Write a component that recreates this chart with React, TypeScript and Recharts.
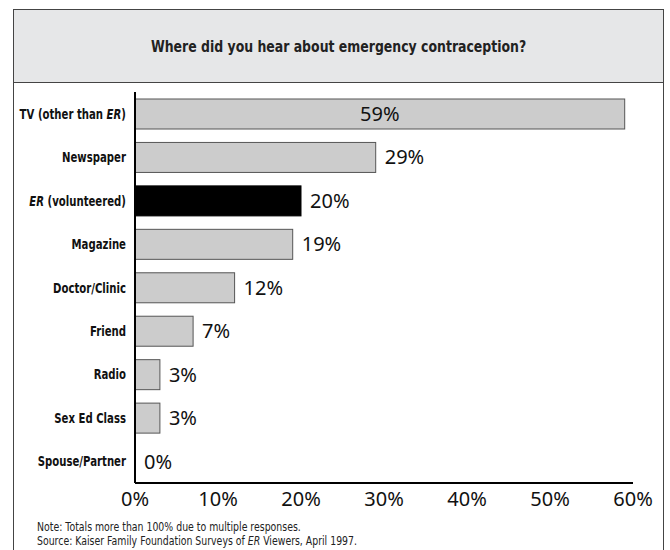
import { BarChart, Bar, XAxis, YAxis, Cell } from "recharts";

const sources = [
  "TV (other than ER)",
  "Newspaper",
  "ER (volunteered)",
  "Magazine",
  "Doctor/Clinic",
  "Friend",
  "Radio",
  "Sex Ed Class",
  "Spouse/Partner",
];
const shares = [59, 29, 20, 19, 12, 7, 3, 3, 0];
const xTicks = [0, 10, 20, 30, 40, 50, 60];

const data = sources.map((name, i) => ({ name, value: shares[i] }));

const narrow = '"DejaVu Sans", sans-serif';
const plain = '"Noto Sans", "Open Sans", sans-serif';

// splits "ER" out so it can be set in italics; squeezed horizontally to mimic a condensed face
function CategoryTick(props: any) {
  const { x, y, payload } = props;
  const parts = String(payload.value).split(/(ER)/).filter((p) => p !== "");
  return (
    <g transform={`translate(${x - 1},${y}) scale(0.7,1)`}>
      <text x={0} y={0} dy={5} textAnchor="end" fontFamily={narrow} fontWeight="bold" fontSize={14.5} fill="#111">
        {parts.map((p, i) => (
          <tspan key={i} fontStyle={p === "ER" ? "italic" : "normal"}>
            {p}
          </tspan>
        ))}
      </text>
    </g>
  );
}

function PercentTick(props: any) {
  const { x, y, payload } = props;
  return (
    <text x={x} y={y} dy={15} textAnchor="middle" fontFamily={plain} fontSize={20} fill="#111">
      {payload.value}%
    </text>
  );
}

// draws the bar and its value label together, so the 0% row still gets its label
function BarWithLabel(props: any) {
  const { x, y, width, height, fill, stroke, value } = props;
  const v = Array.isArray(value) ? value[1] - value[0] : value;
  const inside = width > 300;
  return (
    <g>
      {width > 0 && <rect x={x} y={y} width={width} height={height} fill={fill} stroke={stroke} strokeWidth={1} />}
      <text
        x={inside ? x + width / 2 : x + width + 9}
        y={y + height / 2}
        dy={7}
        textAnchor={inside ? "middle" : "start"}
        fontFamily={plain}
        fontSize={20}
        fill="#111"
      >
        {v}%
      </text>
    </g>
  );
}

export default function App() {
  return (
    <div style={{ position: "absolute", left: 0, top: 0, width: 670, height: 550, overflow: "hidden", background: "#fff" }}>
      <div
        style={{
          position: "absolute",
          left: 13,
          top: 9,
          width: 651,
          height: 600,
          border: "1.5px solid #444",
          boxSizing: "border-box",
        }}
      >
        <div
          style={{
            height: 72,
            background: "#e6e7e8",
            borderBottom: "1.5px solid #444",
            display: "flex",
            alignItems: "center",
            justifyContent: "center",
          }}
        >
          <span
            style={{
              display: "inline-block",
              transform: "scaleX(0.78)",
              fontFamily: narrow,
              fontWeight: "bold",
              fontSize: 16,
              color: "#222",
              whiteSpace: "nowrap",
            }}
          >
            Where did you hear about emergency contraception?
          </span>
        </div>
      </div>
      <div style={{ position: "absolute", left: 0, top: 0 }}>
        <BarChart
          width={670}
          height={520}
          data={data}
          layout="vertical"
          margin={{ top: 92, right: 37, left: 0, bottom: 7 }}
        >
          <XAxis
            type="number"
            domain={[0, 60]}
            ticks={xTicks}
            tick={<PercentTick />}
            axisLine={{ stroke: "#000", strokeWidth: 2 }}
            tickLine={false}
            height={30}
          />
          <YAxis
            type="category"
            dataKey="name"
            width={135}
            tick={<CategoryTick />}
            axisLine={{ stroke: "#000", strokeWidth: 2 }}
            tickLine={false}
            interval={0}
          />
          <Bar dataKey="value" barSize={30} isAnimationActive={false} shape={<BarWithLabel />}>
            {data.map((d, i) => (
              <Cell key={i} fill={i === 2 ? "#000" : "#cccccc"} stroke={i === 2 ? "#000" : "#555"} />
            ))}
          </Bar>
        </BarChart>
      </div>
      <div
        style={{
          position: "absolute",
          left: 37,
          top: 521,
          fontFamily: narrow,
          fontSize: 12,
          lineHeight: "13.5px",
          color: "#222",
          whiteSpace: "nowrap",
          transform: "scaleX(0.78)",
          transformOrigin: "left top",
        }}
      >
        <div>Note: Totals more than 100% due to multiple responses.</div>
        <div>
          Source: Kaiser Family Foundation Surveys of <i>ER</i> Viewers, April 1997.
        </div>
      </div>
    </div>
  );
}
